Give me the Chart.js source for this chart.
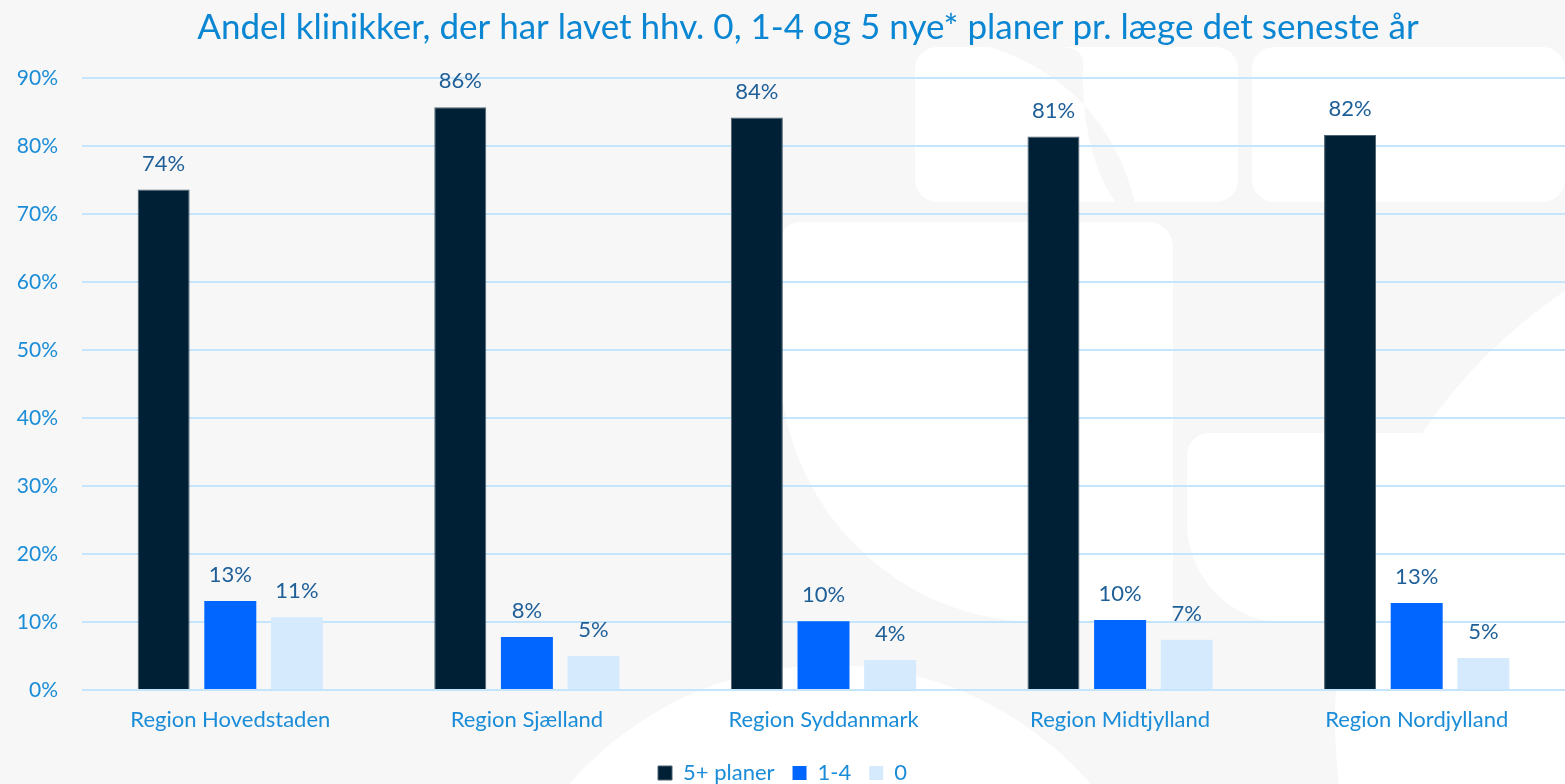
<!DOCTYPE html>
<html>
<head>
<meta charset="utf-8">
<script src="https://cdn.jsdelivr.net/npm/chart.js@4"></script>
<style>
  body { margin: 0; background: #f7f7f7; }
  #wrap { width: 1565px; height: 784px; }
</style>
</head>
<body>
<div id="wrap"><canvas id="myChart"></canvas></div>
<script>
// data
const regions = ['Region Hovedstaden', 'Region Sjælland', 'Region Syddanmark', 'Region Midtjylland', 'Region Nordjylland'];
const plans5 = [73.6, 85.7, 84.2, 81.4, 81.6];
const plans1to4 = [13.1, 7.8, 10.1, 10.3, 12.8];
const plans0 = [10.7, 5.0, 4.4, 7.4, 4.7];
const seriesNames = ['5+ planer', '1-4', '0'];
const yTicks = [0, 10, 20, 30, 40, 50, 60, 70, 80, 90];
const title = 'Andel klinikker, der har lavet hhv. 0, 1-4 og 5 nye* planer pr. læge det seneste år';

const FONT = 'Lato, "Open Sans", sans-serif';

// light grey backdrop with white rounded shapes (decoration only)
const backdrop = {
  id: 'backdrop',
  beforeDraw(chart) {
    const ctx = chart.ctx;
    ctx.save();
    ctx.fillStyle = '#f7f7f7';
    ctx.fillRect(0, 0, chart.width, chart.height);
    ctx.fillStyle = '#ffffff';
    ctx.beginPath(); ctx.roundRect(915, 47, 323, 155, 22); ctx.fill();
    ctx.beginPath(); ctx.roundRect(1252, 47, 313, 155, 22); ctx.fill();
    ctx.beginPath(); ctx.roundRect(780, 222, 393, 400, [20, 25, 0, 260]); ctx.fill();
    ctx.beginPath(); ctx.roundRect(1187, 433, 378, 190, [22, 0, 0, 100]); ctx.fill();
    ctx.beginPath(); ctx.arc(830, 1010, 345, 0, Math.PI * 2); ctx.fill();
    ctx.beginPath(); ctx.arc(1850, 720, 515, 0, Math.PI * 2); ctx.fill();
    // grey crescent inside the top-left shape
    ctx.fillStyle = '#f7f7f7';
    ctx.beginPath();
    ctx.moveTo(990, 47);
    ctx.quadraticCurveTo(1105, 85, 1135, 202);
    ctx.lineTo(1115, 202);
    ctx.quadraticCurveTo(1080, 150, 1083, 60);
    ctx.quadraticCurveTo(1080, 47, 1060, 47);
    ctx.closePath();
    ctx.fill();
    ctx.restore();
  }
};

// title drawn by hand so it can sit a bit right of the canvas centre
const titleText = {
  id: 'titleText',
  afterDraw(chart) {
    const ctx = chart.ctx;
    ctx.save();
    ctx.font = '35px ' + FONT;
    ctx.fillStyle = '#0a86d3';
    ctx.textAlign = 'center';
    ctx.textBaseline = 'middle';
    ctx.fillText(title, 808, 28);
    ctx.restore();
  }
};

// value labels above each bar
const valueLabels = {
  id: 'valueLabels',
  afterDatasetsDraw(chart) {
    const ctx = chart.ctx;
    ctx.save();
    ctx.font = '22px ' + FONT;
    ctx.fillStyle = '#1e5f98';
    ctx.textAlign = 'center';
    ctx.textBaseline = 'middle';
    chart.data.datasets.forEach((ds, i) => {
      chart.getDatasetMeta(i).data.forEach((bar, j) => {
        ctx.fillText(Math.round(ds.data[j]) + '%', bar.x, bar.y - 26);
      });
    });
    ctx.restore();
  }
};

const data = {
  labels: regions,
  datasets: [
    { label: seriesNames[0], data: plans5, backgroundColor: '#002135', borderColor: '#4d6273', borderWidth: 1 },
    { label: seriesNames[1], data: plans1to4, backgroundColor: '#0066ff', borderWidth: 0 },
    { label: seriesNames[2], data: plans0, backgroundColor: '#d5eafc', borderWidth: 0 }
  ]
};

const config = {
  type: 'bar',
  data,
  options: {
    responsive: true,
    maintainAspectRatio: false,
    animation: false,
    layout: { padding: { top: 78, left: 0, right: 0, bottom: -10 } },
    datasets: { bar: { categoryPercentage: 0.674, barPercentage: 0.78 } },
    plugins: {
      title: { display: false },
      tooltip: { enabled: false },
      legend: {
        position: 'bottom',
        labels: {
          font: { family: FONT, size: 22 },
          color: '#1a8cd8',
          boxWidth: 14,
          boxHeight: 14,
          padding: 18
        }
      }
    },
    scales: {
      x: {
        grid: { display: false },
        border: { display: false },
        ticks: { font: { family: FONT, size: 22 }, color: '#1a8cd8', padding: 9 },
        afterFit(scale) { scale.height = 54; }
      },
      y: {
        min: 0,
        max: 90,
        afterBuildTicks(scale) { scale.ticks = yTicks.map(v => ({ value: v })); },
        grid: { color: '#c4e5fb', lineWidth: 2, drawTicks: false },
        border: { display: false },
        ticks: {
          font: { family: FONT, size: 21 },
          color: '#1a8cd8',
          padding: 24,
          callback: v => v + '%'
        },
        afterFit(scale) { scale.width = 82; }
      }
    }
  },
  plugins: [backdrop, titleText, valueLabels]
};

const myChart = new Chart(document.getElementById('myChart'), config);
</script>
</body>
</html>
